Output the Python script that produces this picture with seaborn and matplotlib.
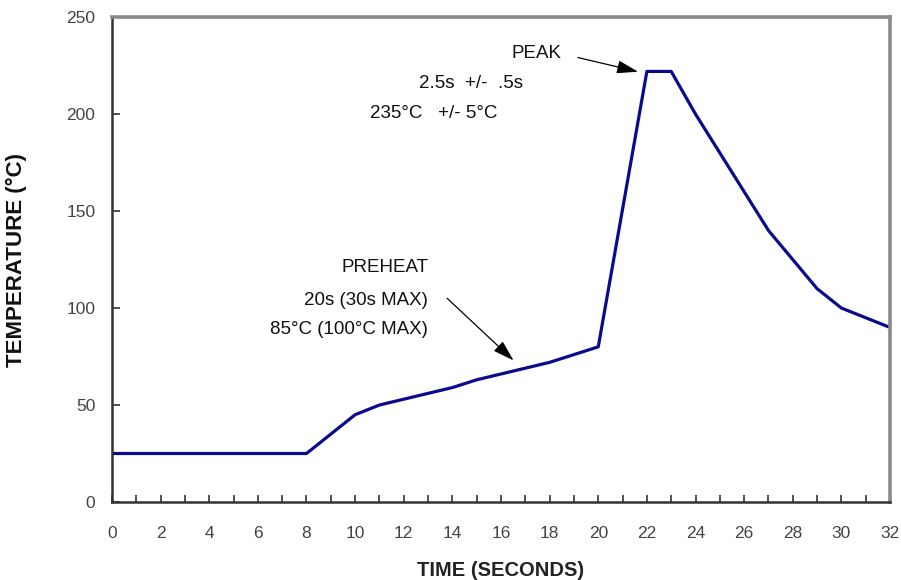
import matplotlib
matplotlib.use("Agg")
import matplotlib.pyplot as plt
import seaborn as sns
import pandas as pd
from matplotlib.ticker import MultipleLocator

# Reflow profile
time_s = [0, 8, 10, 11, 14, 15, 17, 18, 20, 22, 23, 24, 27, 29, 30, 32]
temp_c = [25, 25, 45, 50, 59, 63, 69, 72, 80, 222, 222, 200, 140, 110, 100, 90]

x_ticks = list(range(0, 33, 2))
y_ticks = [0, 50, 100, 150, 200, 250]

peak_text = ["PEAK", "2.5s  +/-  .5s", "235°C   +/- 5°C"]
preheat_text = ["PREHEAT", "20s (30s MAX)", "85°C (100°C MAX)"]

df = pd.DataFrame({"time": time_s, "temp": temp_c})

sns.set_style("white")
plt.rcParams["font.family"] = ["Liberation Sans", "DejaVu Sans"]

fig = plt.figure(figsize=(9.01, 5.80), dpi=100)
ax = fig.add_axes([0.1243, 0.1345, 0.8635, 0.836])

sns.lineplot(data=df, x="time", y="temp", ax=ax, color="#0a0a8c",
             linewidth=2.3, estimator=None, sort=False)

ax.set_xlim(0, 32)
ax.set_ylim(0, 250)
ax.set_xticks(x_ticks)
ax.set_yticks(y_ticks)
ax.xaxis.set_minor_locator(MultipleLocator(1))
ax.tick_params(axis="x", which="both", bottom=True, direction="in", length=5,
               width=1.2, color="#333333", pad=17, labelsize=12.5,
               labelcolor="#444444")
ax.tick_params(axis="y", left=True, direction="in", length=6, width=1.2,
               color="#333333", pad=12, labelsize=12.5, labelcolor="#444444")

for side in ["left", "bottom"]:
    ax.spines[side].set_color("#333333")
    ax.spines[side].set_linewidth(1.8)
for side in ["top", "right"]:
    ax.spines[side].set_color("#8a8a8a")
    ax.spines[side].set_linewidth(2.6)

ax.set_xlabel("TIME (SECONDS)", fontsize=14.5, fontweight="bold",
              color="#222222", labelpad=15)
ax.set_ylabel("TEMPERATURE (°C)", fontsize=16, fontweight="bold",
              color="#111111", labelpad=28)

# annotations
fs = 13.5
tc = "#111111"
ax.text(16.45, 231, peak_text[0], ha="left", va="center", fontsize=fs, color=tc)
ax.text(12.63, 216, peak_text[1], ha="left", va="center", fontsize=fs, color=tc)
ax.text(10.61, 200.5, peak_text[2], ha="left", va="center", fontsize=fs, color=tc)
ax.annotate("", xy=(21.75, 221.5), xytext=(19.05, 229.5),
            arrowprops=dict(arrowstyle="-|>,head_length=1.3,head_width=0.4",
                            color="black", lw=0.9))

ax.text(13.0, 121, preheat_text[0], ha="right", va="center", fontsize=fs, color=tc)
ax.text(13.0, 104, preheat_text[1], ha="right", va="center", fontsize=fs, color=tc)
ax.text(13.0, 88.7, preheat_text[2], ha="right", va="center", fontsize=fs, color=tc)
ax.annotate("", xy=(16.6, 72), xytext=(13.7, 106),
            arrowprops=dict(arrowstyle="-|>,head_length=1.3,head_width=0.4",
                            color="black", lw=0.9))

fig.savefig("out.png", dpi=100)
